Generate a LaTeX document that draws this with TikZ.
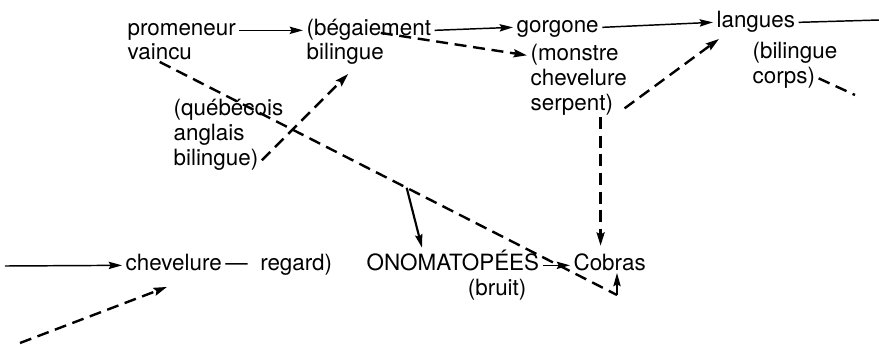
\documentclass[tikz,border=0pt]{standalone}
\usepackage{fontspec}
\setmainfont{TeX Gyre Heros}
\usepackage{tikz}
\usetikzlibrary{arrows.meta,calc}

\begin{document}
\begin{tikzpicture}[x=0.75pt,y=0.75pt,yscale=-1,xscale=1,
    lbl/.style={anchor=base west,inner xsep=2.5pt,inner ysep=1.5pt,text height=0.75em,text depth=0.05em,
      font=\fontsize{16.8}{19.5}\selectfont},
    plain/.style={line width=1.1pt,-{Stealth[length=10pt,width=5.5pt,inset=1.5pt]}},
    dashlink/.style={line width=1.8pt,dash pattern={on 9pt off 5pt}},
    dasharr/.style={dashlink,-{Stealth[length=10pt,width=6pt,inset=1.5pt]}}]
    \useasboundingbox (0,0) rectangle (879,344);

    % Text Node
    \node[lbl] (prom) at (124,35) {promeneur};
    \node[lbl] (vainc) at (124,59) {vaincu};
    % Text Node
    \node[lbl] (beg1) at (303,35) {(bégaiement};
    \node[lbl] (beg2) at (303,59) {bilingue};
    % Text Node
    \node[lbl] (gorg) at (513,32) {gorgone};
    % Text Node
    \node[lbl] (mon1) at (527,60) {(monstre};
    \node[lbl] (mon2) at (527,85) {chevelure};
    \node[lbl] (serp) at (527,110) {serpent)};
    % Text Node
    \node[lbl] (lang) at (713,27) {langues};
    % Text Node
    \node[lbl] (bil1) at (749,58) {(bilingue};
    \node[lbl] (bil2) at (749,83) {corps)};
    % Text Node
    \node[lbl] (queb1) at (170,115) {(québécois};
    \node[lbl] (queb2) at (170,140) {anglais};
    \node[lbl] (queb3) at (170,165) {bilingue)};
    % Text Node
    \node[lbl] (chev) at (122,270) {chevelure\,---\ \ regard)};
    % Text Node
    \node[lbl] (ono) at (363,270) {ONOMATOPÉES};
    \node[lbl,anchor=base east] (bruit) at (530,295) {(bruit)};
    % Text Node
    \node[lbl] (cob) at (570,270) {Cobras};

    % free ends and corners
    \coordinate (langout) at (879,20);
    \coordinate (corpsout) at (855,95);
    \coordinate (leftin) at (5,266);
    \coordinate (leftlow) at (20,343);
    \coordinate (turn) at (617,295);
    \coordinate (fork) at ($(vainc.south)!0.54!(turn)$);
    \coordinate (serpfoot) at ($(serp.south east)+(-16,4)$);

    %Straight Lines
    \draw[plain] (prom.east) -- (beg1.west);
    \draw[plain] (beg1.east) -- (gorg.west);
    \draw[plain] (gorg.east) -- (lang.west);
    \draw[line width=1.1pt] (lang.east) -- (langout);
    \draw[plain] (leftin) -- (chev.west);
    \draw[plain] (ono.east) -- (cob.west);
    \draw[plain,line width=1.6pt] (fork) -- ($(ono.north west)+(59,-10)$);
    \draw[plain] (turn) -- (turn |- cob.south);

    %Dashed Lines
    \draw[dasharr] ($(beg1.south)+(12,-5)$) -- (mon1.west);
    \draw[dasharr] (queb3.east) -- ($(beg2.south)+(3,12)$);
    \draw[dasharr] ($(serp.east)+(8,3)$) -- ($(lang.south west)+(6,9)$);
    \draw[dasharr,shorten >=9pt] (serpfoot) -- (serpfoot |- cob.north);
    \draw[dashlink] (vainc.south) -- (turn);
    \draw[dashlink] (bil2.east) -- (corpsout);
    \draw[dasharr] (leftlow) -- ($(chev.south west)+(45,14)$);
\end{tikzpicture}
\end{document}
